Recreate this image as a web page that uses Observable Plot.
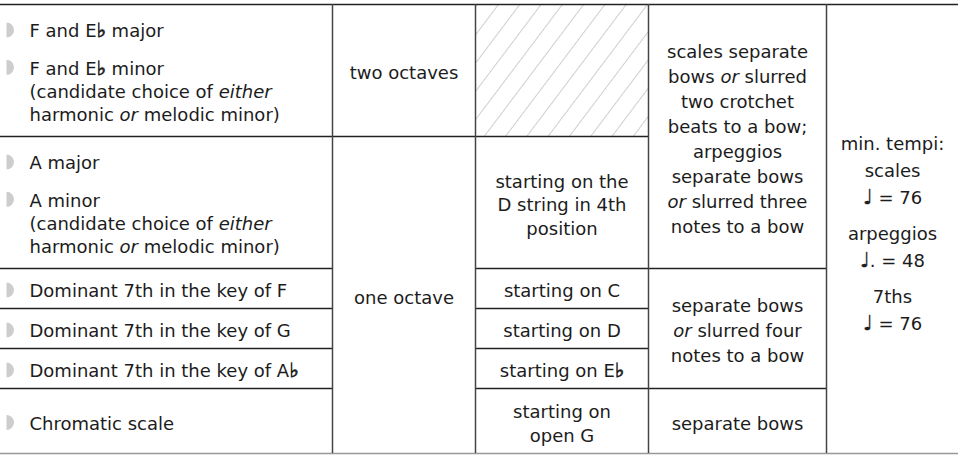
<!DOCTYPE html>
<html><head><meta charset="utf-8">
<script src="https://cdn.jsdelivr.net/npm/d3@7"></script>
<script src="https://cdn.jsdelivr.net/npm/@observablehq/plot@0.6"></script>
<style>
html,body{margin:0;padding:0;background:#fff;}
#chart svg{display:block;}
</style></head><body><div id="chart"></div>
<script>
// ---------- table content ----------
// column 1: requirements (row index, lines; *…* = italic)
const requirementItems = [
  {row: 0, lines: ["F and E♭ major"]},
  {row: 0, lines: ["F and E♭ minor", "(candidate choice of *either*", "harmonic *or* melodic minor)"]},
  {row: 1, lines: ["A major"]},
  {row: 1, lines: ["A minor", "(candidate choice of *either*", "harmonic *or* melodic minor)"]},
  {row: 2, lines: ["Dominant 7th in the key of F"]},
  {row: 3, lines: ["Dominant 7th in the key of G"]},
  {row: 4, lines: ["Dominant 7th in the key of A♭"]},
  {row: 5, lines: ["Chromatic scale"]}
];
// column 2: range
const rangeCells = [
  {rows: [0, 1], groups: [["two octaves"]]},
  {rows: [1, 6], groups: [["one octave"]]}
];
// column 3: position
const positionCells = [
  {rows: [0, 1], groups: [], hatched: true},
  {rows: [1, 2], groups: [["starting on the", "D string in 4th", "position"]]},
  {rows: [2, 3], groups: [["starting on C"]]},
  {rows: [3, 4], groups: [["starting on D"]]},
  {rows: [4, 5], groups: [["starting on E♭"]]},
  {rows: [5, 6], groups: [["starting on", "open G"]]}
];
// column 4: bowing
const bowingCells = [
  {rows: [0, 2], groups: [["scales separate", "bows *or* slurred", "two crotchet", "beats to a bow;", "arpeggios", "separate bows", "*or* slurred three", "notes to a bow"]]},
  {rows: [2, 5], groups: [["separate bows", "*or* slurred four", "notes to a bow"]]},
  {rows: [5, 6], groups: [["separate bows"]]}
];
// column 5: tempi
const tempoCells = [
  {rows: [0, 6], groups: [["min. tempi:", "scales", "♩ = 76"], ["arpeggios", "♩. = 48"], ["7ths", "♩ = 76"]]}
];

// ---------- layout (table geometry) ----------
const W = 958, H = 455;
const colEdges = [0, 332, 475, 648, 826, 958];
const rowEdges = [4, 136, 268, 308, 348, 388, 453];
const lineHeights = [23.3, 23.3, 23.5, 25, 27];
const groupGaps = [14, 0, 0, 0, 9];
const cellShift = [3, 3, 3, 3, 5.5];
const textLeft = 29, bulletX = 6;

// group column 1 items into cells per row
const reqCells = d3.range(6).map(r => ({
  rows: [r, r + 1],
  groups: requirementItems.filter(d => d.row === r).map(d => d.lines)
}));
const columns = [reqCells, rangeCells, positionCells, bowingCells, tempoCells];

const leftLines = [], centerLines = [], bullets = [], hSegs = [], vSegs = [], hatch = [];
columns.forEach((cells, c) => {
  const lh = lineHeights[c], gap = groupGaps[c];
  cells.forEach(cell => {
    const [r0, r1] = cell.rows;
    const y0 = rowEdges[r0], y1 = rowEdges[r1];
    if (cell.hatched) hatch.push({x1: colEdges[c], x2: colEdges[c + 1], y1: y0, y2: y1});
    if (r1 < 6) hSegs.push({x1: colEdges[c], x2: colEdges[c + 1], y: y1});
    if (c < 4) vSegs.push({x: colEdges[c + 1], y1: y0, y2: y1});
    const n = d3.sum(cell.groups, g => g.length);
    if (!n) return;
    const span = (n - 1) * lh + (cell.groups.length - 1) * gap;
    let y = (y0 + y1) / 2 - span / 2 + cellShift[c];
    cell.groups.forEach(g => {
      g.forEach((t, i) => {
        if (c === 0) {
          leftLines.push({x: textLeft, y, text: t});
          if (i === 0) bullets.push({x: bulletX, y: y - 1.5});
        } else {
          centerLines.push({x: (colEdges[c] + colEdges[c + 1]) / 2, y, text: t});
        }
        y += lh;
      });
      y += gap;
    });
  });
});
hSegs.push({x1: 0, x2: W, y: rowEdges[0]});
const bottomSeg = [{x1: 0, x2: W, y: rowEdges[6]}];

const halfDisc = {
  draw(ctx, size) {
    const r = Math.sqrt(size / Math.PI);
    ctx.moveTo(0, -r);
    ctx.arc(0, 0, r, -Math.PI / 2, Math.PI / 2);
    ctx.closePath();
  }
};

const fs = 18, ink = "#1c1c1c";
const plot = Plot.plot({
  width: W, height: H,
  margin: 0,
  x: {domain: [0, W], range: [0, W], axis: null},
  y: {domain: [0, H], range: [0, H], axis: null},
  style: {fontFamily: "'DejaVu Sans', sans-serif", background: "#fff"},
  marks: [
    Plot.rect(hatch, {x1: "x1", x2: "x2", y1: "y1", y2: "y2", fill: "url(#hatch)"}),
    Plot.ruleY(hSegs, {y: "y", x1: "x1", x2: "x2", stroke: "#222", strokeWidth: 1.5}),
    Plot.ruleY(bottomSeg, {y: "y", x1: "x1", x2: "x2", stroke: "#999", strokeWidth: 1.5}),
    Plot.ruleX(vSegs, {x: "x", y1: "y1", y2: "y2", stroke: "#444", strokeWidth: 1.5}),
    Plot.dot(bullets, {x: "x", y: "y", r: 7.5, symbol: halfDisc, fill: "#cdcdcd", stroke: null}),
    Plot.text(leftLines, {x: "x", y: "y", text: "text", textAnchor: "start", fontSize: fs, fill: ink}),
    Plot.text(centerLines, {x: "x", y: "y", text: "text", textAnchor: "middle", fontSize: fs, fill: ink})
  ]
});

// hatch pattern definition
const defs = d3.select(plot).insert("defs", ":first-child");
const pat = defs.append("pattern").attr("id", "hatch")
  .attr("patternUnits", "userSpaceOnUse").attr("width", 17).attr("height", 10)
  .attr("x", 1.3).attr("patternTransform", "rotate(37)");
pat.append("line").attr("x1", 8.5).attr("x2", 8.5).attr("y1", -1).attr("y2", 11)
  .attr("stroke", "#cfcfcf").attr("stroke-width", 1);

// italics (*…*), bold flat signs, larger note glyphs
d3.select(plot).selectAll("text").each(function() {
  const s = this.textContent;
  if (!/[*♭♩]/.test(s)) return;
  const parts = s.split("*");
  this.textContent = "";
  parts.forEach((p, i) => {
    if (!p) return;
    p.split(/([♭♩])/).forEach(q => {
      if (!q) return;
      const ts = d3.select(this).append("tspan").text(q);
      if (i % 2) ts.attr("font-style", "italic");
      if (q === "♭") ts.attr("font-weight", "bold").attr("font-size", fs * 1.1)
        .attr("stroke", ink).attr("stroke-width", 0.7);
      if (q === "♩") ts.attr("font-size", fs * 1.15).attr("stroke", ink).attr("stroke-width", 0.4);
    });
  });
});

document.getElementById("chart").appendChild(plot);
</script>
</body></html>
